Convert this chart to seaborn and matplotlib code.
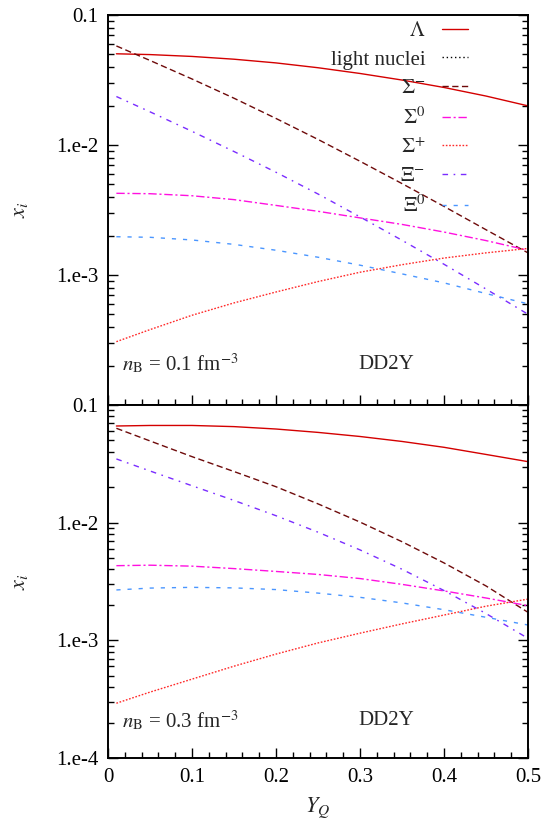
import math
import matplotlib
matplotlib.use('Agg')
import matplotlib.pyplot as plt
import seaborn as sns
from matplotlib.ticker import LogLocator, MultipleLocator, FuncFormatter, NullFormatter

sns.set_style('ticks')
plt.rcParams['font.family'] = ['Liberation Serif', 'DejaVu Serif']
plt.rcParams['mathtext.fontset'] = 'stix'
plt.rcParams['font.size'] = 15

# ---------- data ----------
yq = [0.01, 0.05, 0.10, 0.15, 0.20, 0.25, 0.30, 0.35, 0.40, 0.45, 0.50]

# n_B = 0.1 fm^-3
lam_01 = [0.0503, 0.0496, 0.0480, 0.0457, 0.0428, 0.0393, 0.0355, 0.0316, 0.0277, 0.0238, 0.0200]
sigm_01 = [0.0578, 0.0447, 0.0322, 0.0229, 0.0160, 0.01104, 0.0075, 0.00505, 0.00337, 0.00223, 0.00148]
sig0_01 = [0.00425, 0.00422, 0.00407, 0.00380, 0.00343, 0.00309, 0.00275, 0.00245, 0.00214, 0.00184, 0.00155]
sigp_01 = [0.000307, 0.00038, 0.00049, 0.00061, 0.00074, 0.00089, 0.00105, 0.00120, 0.00135, 0.00148, 0.00160]
xim_01 = [0.0236, 0.0180, 0.01274, 0.00891, 0.00617, 0.0042, 0.0028, 0.00185, 0.00121, 0.00078, 0.000499]
xi0_01 = [0.00197, 0.00195, 0.00186, 0.00172, 0.00155, 0.00137, 0.00119, 0.00102, 0.00087, 0.00072, 0.00060]

# n_B = 0.3 fm^-3
lam_03 = [0.0663, 0.0670, 0.0670, 0.0655, 0.0625, 0.0585, 0.0540, 0.0490, 0.0437, 0.0380, 0.0330]
sigm_03 = [0.0634, 0.0495, 0.0364, 0.0272, 0.0202, 0.01445, 0.01012, 0.00689, 0.00455, 0.0029, 0.00173]
sig0_03 = [0.00431, 0.00435, 0.00427, 0.00407, 0.00385, 0.00363, 0.00335, 0.00299, 0.00263, 0.00229, 0.00197]
sigp_03 = [0.000292, 0.000363, 0.000468, 0.000603, 0.000764, 0.00095, 0.00115, 0.00138, 0.00164, 0.00195, 0.00224]
xim_03 = [0.0348, 0.0275, 0.0206, 0.01545, 0.01146, 0.0083, 0.00587, 0.00402, 0.00265, 0.00169, 0.00104]
xi0_03 = [0.00268, 0.00278, 0.00282, 0.00279, 0.00270, 0.00252, 0.00232, 0.00208, 0.00182, 0.00157, 0.00135]

labels = [r'$\Lambda$', 'light nuclei', r'$\Sigma^{-}$', r'$\Sigma^{0}$',
          r'$\Sigma^{+}$', r'$\Xi^{-}$', r'$\Xi^{0}$']
colors = ['#d40000', 'black', '#6e0a0a', '#ff10e0', '#ff2a2a', '#7a2cff', '#4a96ff']
styles = ['-', (0, (1, 2)), (0, (4.5, 2.5)), (0, (6, 2, 1.5, 2)),
          (0, (1.2, 1.2)), (0, (4, 4, 1.2, 4)), (0, (3, 5))]

panels = [
    ('0.1', [lam_01, None, sigm_01, sig0_01, sigp_01, xim_01, xi0_01]),
    ('0.3', [lam_03, None, sigm_03, sig0_03, sigp_03, xim_03, xi0_03]),
]

fig = plt.figure(figsize=(5.49, 8.24), dpi=100)
ax_top = fig.add_axes([0.1967, 0.5085, 0.765, 0.4733])
ax_bot = fig.add_axes([0.1967, 0.0801, 0.765, 0.4284])


def log_label(v, pos):
    if abs(v - 0.1) < 1e-9:
        return '0.1'
    exp = int(round(math.log10(v)))
    return f'1.e{exp}'


for ax, (nb, series) in zip([ax_top, ax_bot], panels):
    handles = []
    for lab, col, ls, vals in zip(labels, colors, styles, series):
        if vals is None:
            # light nuclei stay below the plotted range -> legend entry only
            h, = ax.plot([], [], color=col, linestyle=ls, linewidth=1.0, label=lab)
        else:
            sns.lineplot(x=yq, y=vals, ax=ax, color=col, linestyle=ls,
                         linewidth=1.0, label=lab)
            h = ax.get_lines()[-1]
        handles.append(h)

    ax.set_yscale('log')
    ax.set_xlim(0, 0.5)
    ax.set_ylim(1e-4, 0.1)
    ax.xaxis.set_major_locator(MultipleLocator(0.1))
    ax.xaxis.set_minor_locator(MultipleLocator(0.02))
    ax.yaxis.set_major_locator(LogLocator(base=10, numticks=10))
    ax.yaxis.set_minor_locator(LogLocator(base=10, subs=range(2, 10), numticks=20))
    ax.yaxis.set_minor_formatter(NullFormatter())
    ax.tick_params(which='both', direction='in', top=False, right=True,
                   labelsize=15, colors='black')
    ax.tick_params(which='major', length=7.5, width=1.0, pad=7)
    ax.tick_params(which='minor', length=4, width=1.0)
    for sp in ax.spines.values():
        sp.set_linewidth(1.4)
        sp.set_color('black')

    ax.set_ylabel(r'$x_i$', fontsize=16)
    ax.yaxis.set_label_coords(-0.185, 0.5)

    ax.text(0.033, 0.105, r'$n_{\rm B}$ = ' + nb + r' fm$^{-3}$',
            transform=ax.transAxes, ha='left', va='center', fontsize=15)
    ax.text(0.662, 0.105, 'DD2Y', transform=ax.transAxes,
            ha='center', va='center', fontsize=15)

    if ax is ax_top:
        leg = ax.legend(handles=handles, labels=labels, loc='upper right',
                        bbox_to_anchor=(0.872, 1.0), frameon=False,
                        markerfirst=False, handlelength=1.25,
                        handletextpad=0.8, labelspacing=0.44,
                        borderaxespad=0.0, borderpad=0.3, fontsize=15)
        for col in leg._legend_box.get_children()[1].get_children():
            col.align = 'right'
        ax.yaxis.set_major_formatter(
            FuncFormatter(lambda v, p: '' if v < 2e-4 else log_label(v, p)))
        ax.tick_params(labelbottom=False)
        ax.set_xlabel('')
    else:
        leg = ax.get_legend()
        if leg is not None:
            leg.remove()
        ax.yaxis.set_major_formatter(FuncFormatter(log_label))
        ax.xaxis.set_major_formatter(
            FuncFormatter(lambda v, p: '0' if abs(v) < 1e-9 else f'{v:.1f}'))
        ax.set_xlabel(r'$Y_Q$', fontsize=16)
        ax.xaxis.set_label_coords(0.5, -0.108)

fig.savefig('out.png', dpi=100)
